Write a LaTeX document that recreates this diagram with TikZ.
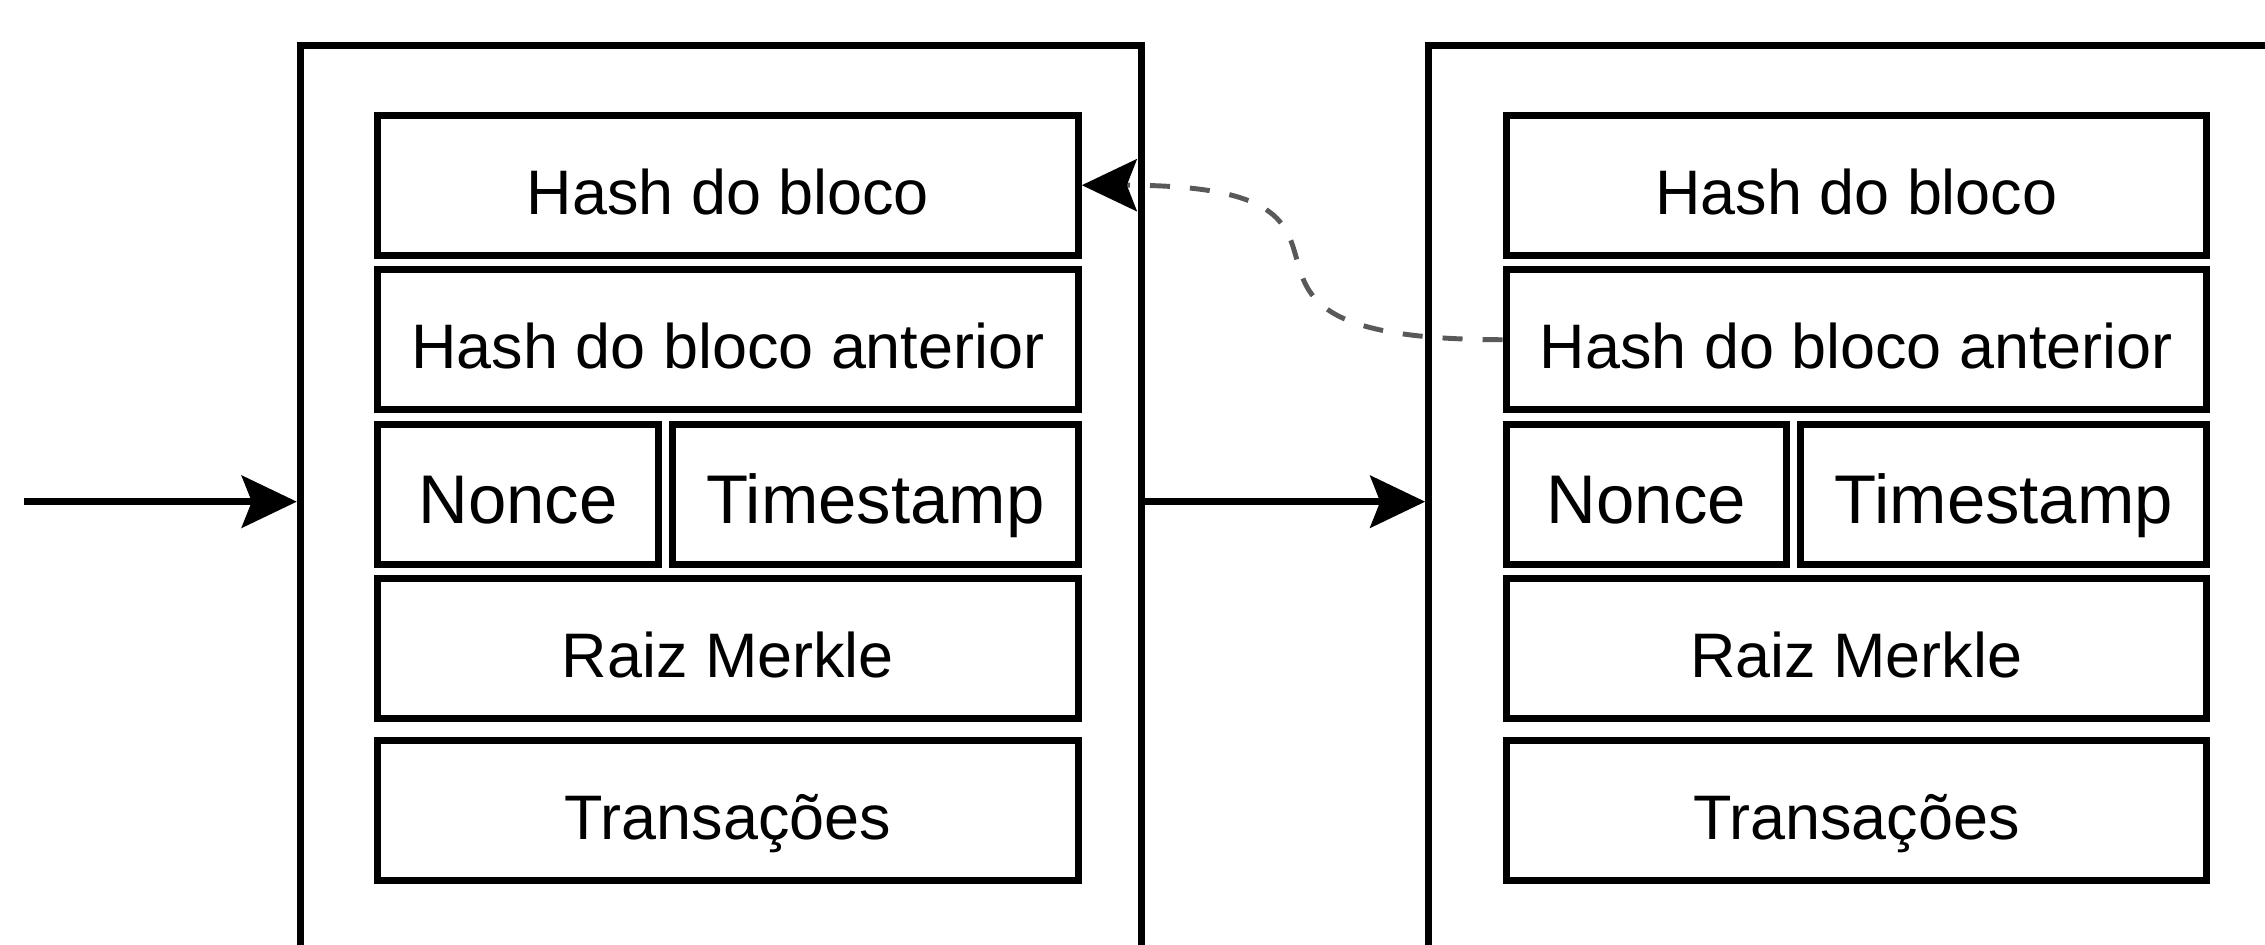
\documentclass[tikz,border=0pt]{standalone}
\usepackage{fontspec}
\setmainfont{Liberation Sans}
\usetikzlibrary{arrows.meta, positioning}

\begin{document}
\begin{tikzpicture}
	[
	node distance=0.075cm and 0.07cm,
        bloco/.style={
            rectangle,
            draw=black,
            line width=2pt,
            minimum width=8.414cm,
            minimum height=9.124cm
        },
        campo/.style={
            rectangle,
            draw=black,
            line width=2pt,
            inner sep=0pt,
            minimum width=7.007cm,
            minimum height=1.4cm,
            text height=0.6cm,
            text depth=0.02cm,
            font=\fontsize{17.9}{21}\selectfont
        },
        campoCurto/.style={
            campo,
            font=\fontsize{19.6}{23}\selectfont
        },
        flechaCadeia/.style={
            -{Stealth[length=0.55cm, width=0.52cm, inset=0.1cm]},
            line width=2pt
        },
        flechaHash/.style={
            -{Stealth[length=0.55cm, width=0.52cm, inset=0.1cm, color=black]},
            line width=1.4pt,
            draw=black!65,
            dash pattern=on 0.2cm off 0.2cm
        }
    ]
    \useasboundingbox (0,0) rectangle (22.65,-9.45);

    \node(bloco1) [bloco] at (7.21,-5.017) {};
    \node(bloco2) [bloco, right=2.8cm of bloco1] {};

    \node(hashBloco1) [campo, below right=0.697cm and 0.773cm of bloco1.north west] {Hash do bloco};
    \node(hashAnterior1) [campo, below=of hashBloco1] {Hash do bloco anterior};
    \node(nonce1) [campoCurto, minimum width=2.809cm, below right=0.08cm and 0cm of hashAnterior1.south west] {Nonce};
    \node(timestamp1) [campoCurto, minimum width=4.058cm, right=of nonce1] {Timestamp};
    \node(raiz1) [campo, below right=0.065cm and 0cm of nonce1.south west] {Raiz Merkle};
    \node(transacoes1) [campo, below=0.155cm of raiz1] {Transações};

    \node(hashBloco2) [campo, below right=0.697cm and 0.773cm of bloco2.north west] {Hash do bloco};
    \node(hashAnterior2) [campo, below=of hashBloco2] {Hash do bloco anterior};
    \node(nonce2) [campoCurto, minimum width=2.809cm, below right=0.08cm and 0cm of hashAnterior2.south west] {Nonce};
    \node(timestamp2) [campoCurto, minimum width=4.058cm, right=of nonce2] {Timestamp};
    \node(raiz2) [campo, below right=0.065cm and 0cm of nonce2.south west] {Raiz Merkle};
    \node(transacoes2) [campo, below=0.155cm of raiz2] {Transações};

    \coordinate(entrada) at (0.24,-5.017);

    \draw[flechaCadeia] (entrada)--(bloco1.west);
    \draw[flechaCadeia] (bloco1.east)--(bloco2.west);
    \draw[flechaHash] (hashAnterior2.west) .. controls +(-3.55,0) and +(3.55,0) .. (hashBloco1.east);
\end{tikzpicture}
\end{document}
